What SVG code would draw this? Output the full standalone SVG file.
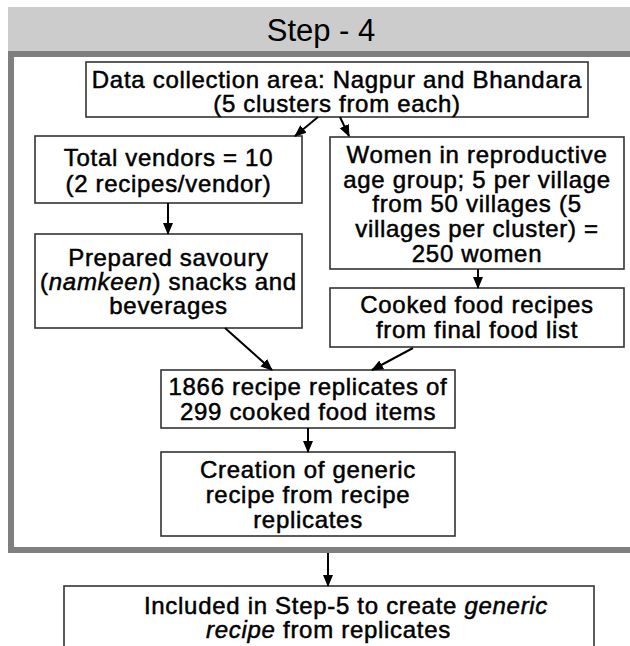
<svg xmlns="http://www.w3.org/2000/svg" width="630" height="646" viewBox="0 0 630 646">
  <style>
    .box { fill: #ffffff; stroke: #333333; stroke-width: 1.6; }
    .t { font-family: "Liberation Sans", Arial, sans-serif; font-size: 24px; letter-spacing: 0.7px; fill: #000; stroke: #000; stroke-width: 0.5; text-anchor: middle; }
    .head { font-family: "Liberation Sans", Arial, sans-serif; font-size: 31px; fill: #000; text-anchor: middle; }
    .edge { stroke: #000; stroke-width: 2; fill: none; marker-end: url(#arrow); }
  </style>
  <defs>
    <marker id="arrow" markerUnits="userSpaceOnUse" markerWidth="12" markerHeight="12" viewBox="0 0 12 12" refX="11" refY="6" orient="auto">
      <path d="M0,1 L12,6 L0,11 z" fill="#000"/>
    </marker>
  </defs>

  <rect x="0" y="0" width="630" height="646" fill="#ffffff"/>

  <!-- step header band and frame -->
  <g id="step-frame">
    <rect x="8" y="7" width="630" height="45" fill="#cccccc"/>
    <rect x="11" y="54" width="640" height="496" fill="#ffffff" stroke="#7f7f7f" stroke-width="6"/>
    <text class="head" x="321" y="41">Step - 4</text>
  </g>

  <g id="data-collection">
    <rect class="box" x="86" y="62" width="502" height="55"/>
    <text class="t" x="337" y="88">Data collection area: Nagpur and Bhandara</text>
    <text class="t" x="337" y="112">(5 clusters from each)</text>
  </g>

  <g id="vendors">
    <rect class="box" x="35" y="136" width="267" height="67"/>
    <text class="t" x="168.5" y="166">Total vendors = 10</text>
    <text class="t" x="168.5" y="192">(2 recipes/vendor)</text>
  </g>

  <g id="savoury-snacks">
    <rect class="box" x="35" y="234" width="267" height="94"/>
    <text class="t" x="168.5" y="266">Prepared savoury</text>
    <text class="t" x="168.5" y="290">(<tspan font-style="italic">namkeen</tspan>) snacks and</text>
    <text class="t" x="168.5" y="314">beverages</text>
  </g>

  <g id="women">
    <rect class="box" x="330" y="137" width="294" height="132"/>
    <text class="t" x="477" y="163">Women in reproductive</text>
    <text class="t" x="477" y="188">age group; 5 per village</text>
    <text class="t" x="477" y="212">from 50 villages (5</text>
    <text class="t" x="477" y="237">villages per cluster) =</text>
    <text class="t" x="477" y="262">250 women</text>
  </g>

  <g id="cooked-recipes">
    <rect class="box" x="330" y="288" width="294" height="59"/>
    <text class="t" x="477" y="313">Cooked food recipes</text>
    <text class="t" x="477" y="338">from final food list</text>
  </g>

  <g id="replicates">
    <rect class="box" x="161" y="370" width="294" height="58"/>
    <text class="t" x="308" y="395">1866 recipe replicates of</text>
    <text class="t" x="308" y="420">299 cooked food items</text>
  </g>

  <g id="generic-recipe">
    <rect class="box" x="161" y="452" width="294" height="84"/>
    <text class="t" x="308" y="478">Creation of generic</text>
    <text class="t" x="308" y="503">recipe from recipe</text>
    <text class="t" x="308" y="528">replicates</text>
  </g>

  <g id="step-5">
    <rect class="box" x="64" y="586" width="530" height="90"/>
    <text class="t" x="346" y="614">Included in Step-5 to create <tspan font-style="italic">generic</tspan></text>
    <text class="t" x="328.5" y="638"><tspan font-style="italic">recipe</tspan> from replicates</text>
  </g>

  <g id="connectors">
    <line class="edge" x1="318" y1="117" x2="295" y2="136"/>
    <line class="edge" x1="340" y1="117" x2="349" y2="136"/>
    <line class="edge" x1="168" y1="203" x2="168" y2="234"/>
    <line class="edge" x1="478" y1="269" x2="478" y2="288"/>
    <line class="edge" x1="225" y1="328" x2="272" y2="370"/>
    <line class="edge" x1="413" y1="348" x2="372" y2="370"/>
    <line class="edge" x1="308" y1="428" x2="308" y2="452"/>
    <line class="edge" x1="328" y1="553" x2="328" y2="586"/>
  </g>
</svg>
